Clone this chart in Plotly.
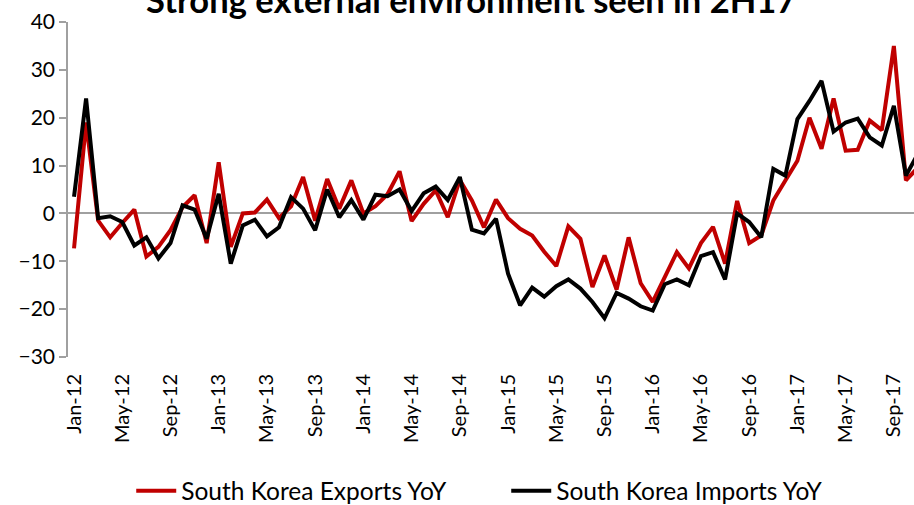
import plotly.graph_objects as go

# ---- data ----
month_names = ["Jan", "Feb", "Mar", "Apr", "May", "Jun",
               "Jul", "Aug", "Sep", "Oct", "Nov", "Dec"]
years = ["12", "13", "14", "15", "16", "17"]
months = [f"{m}-{y}" for y in years for m in month_names][:71]  # Jan-12 .. Nov-17

exports_yoy = [
    -7.3, 19.0, -1.5, -5.0, -2.0, 0.8, -9.0, -7.0, -3.5, 1.3, 3.8, -6.2,      # 2012
    10.7, -7.0, 0.0, 0.2, 2.9, -1.0, 1.5, 7.6, -1.5, 7.2, 1.0, 6.9,           # 2013
    0.0, 1.5, 4.0, 8.8, -1.6, 2.0, 4.8, -0.8, 7.0, 2.7, -2.9, 2.9,            # 2014
    -1.0, -3.2, -4.6, -8.0, -11.0, -2.7, -5.3, -15.4, -8.8, -15.9, -5.0, -14.6,  # 2015
    -18.5, -13.3, -8.1, -11.5, -6.2, -2.8, -10.5, 2.6, -6.2, -4.6, 2.7, 6.9,  # 2016
    11.0, 20.0, 13.5, 24.0, 13.1, 13.3, 19.4, 17.4, 35.0, 6.9, 9.6,           # 2017
]
imports_yoy = [
    3.5, 24.0, -1.0, -0.6, -1.8, -6.7, -5.0, -9.4, -6.2, 1.7, 0.8, -5.3,      # 2012
    4.1, -10.5, -2.5, -1.3, -4.8, -2.9, 3.4, 1.0, -3.5, 5.0, -0.8, 2.8,       # 2013
    -1.3, 3.9, 3.6, 5.0, 0.5, 4.2, 5.6, 2.8, 7.6, -3.4, -4.2, -1.1,           # 2014
    -12.6, -19.2, -15.5, -17.4, -15.2, -13.8, -15.7, -18.5, -21.9, -16.6, -17.8, -19.4,  # 2015
    -20.3, -14.8, -13.8, -15.0, -8.9, -8.1, -13.8, 0.0, -1.8, -5.0, 9.3, 7.9,  # 2016
    19.7, 23.5, 27.7, 17.1, 19.0, 19.8, 15.9, 14.2, 22.5, 7.9, 12.5,          # 2017
]
tick_labels = ["Jan-12", "May-12", "Sep-12", "Jan-13", "May-13", "Sep-13",
               "Jan-14", "May-14", "Sep-14", "Jan-15", "May-15", "Sep-15",
               "Jan-16", "May-16", "Sep-16", "Jan-17", "May-17", "Sep-17"]
y_ticks = [-30, -20, -10, 0, 10, 20, 30, 40]

title_text = "Strong external environment seen in 2H17"
FONT = "Lato"
AXIS_GREY = "#A0A0A0"

fig = go.Figure()
fig.add_trace(go.Scatter(x=months, y=exports_yoy, mode="lines",
                         name="South Korea Exports YoY",
                         line=dict(color="#C00000", width=4)))
fig.add_trace(go.Scatter(x=months, y=imports_yoy, mode="lines",
                         name="South Korea Imports YoY",
                         line=dict(color="#000000", width=4)))

fig.update_layout(
    width=914, height=505,
    margin=dict(l=68, r=0, t=22, b=148, autoexpand=False),
    paper_bgcolor="white", plot_bgcolor="white",
    font=dict(family=FONT, color="#000000"),
    showlegend=True,
    legend=dict(orientation="h", xref="paper", x=0.518, xanchor="center",
                yref="container", y=0.028, yanchor="middle",
                font=dict(family=FONT, size=24.5, color="#000000"),
                itemwidth=40, entrywidth=320, traceorder="normal"),
    annotations=[dict(text="<b>" + title_text + "</b>", xref="paper", yref="paper",
                      x=0.476, y=1.066, xanchor="center", yanchor="middle",
                      showarrow=False, font=dict(family=FONT, size=34.5, color="#000000"))],
)

fig.update_xaxes(
    type="category",
    categoryorder="array", categoryarray=months,
    range=[-0.5, 69.67],
    tickmode="array", tickvals=tick_labels, ticktext=tick_labels,
    tickangle=-90, ticks="", ticklabelstandoff=12, automargin=False,
    tickfont=dict(family=FONT, size=20, color="#000000"),
    showline=False, showgrid=False, zeroline=False,
)
fig.update_yaxes(
    range=[-30, 40], tickmode="array", tickvals=y_ticks, automargin=False,
    ticks="outside", ticklen=7, tickwidth=1.5, tickcolor=AXIS_GREY,
    showline=True, linecolor=AXIS_GREY, linewidth=1.5,
    showgrid=False, zeroline=True, zerolinecolor=AXIS_GREY, zerolinewidth=2,
    tickfont=dict(family=FONT, size=21, color="#000000"),
)

fig.write_html("out.html", config={"displayModeBar": False},
               post_script="document.body.style.margin='0';document.body.style.overflow='hidden';")
